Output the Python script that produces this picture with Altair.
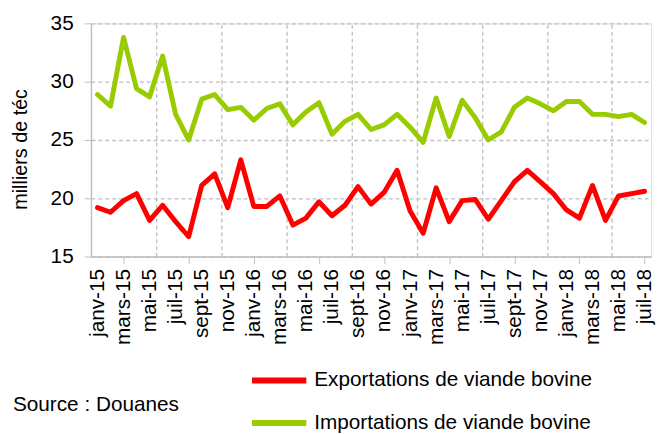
import altair as alt
import pandas as pd

month_names = ["janv", "févr", "mars", "avr", "mai", "juin", "juil", "août", "sept", "oct", "nov", "déc"]
years = ["15", "16", "17", "18"]
months = [f"{m}-{y}" for y in years for m in month_names][:43]  # janv-15 .. juil-18

exports = [19.2, 18.8, 19.8, 20.4, 18.1, 19.4, 18.0, 16.7, 21.1, 22.1, 19.2, 23.3,
           19.3, 19.3, 20.2, 17.7, 18.3, 19.7, 18.5, 19.4, 21.0, 19.5, 20.5, 22.4,
           18.9, 17.0, 20.9, 18.0, 19.8, 19.9, 18.2, 19.8, 21.4, 22.4, 21.4, 20.4,
           19.0, 18.3, 21.1, 18.1, 20.2, 20.4, 20.6]
imports = [28.9, 27.9, 33.8, 29.4, 28.7, 32.2, 27.2, 25.0, 28.5, 28.9, 27.6, 27.8,
           26.7, 27.7, 28.1, 26.3, 27.4, 28.2, 25.5, 26.6, 27.2, 25.9, 26.3, 27.2,
           26.1, 24.8, 28.6, 25.3, 28.4, 26.9, 25.0, 25.7, 27.8, 28.6, 28.1, 27.5,
           28.3, 28.3, 27.2, 27.2, 27.0, 27.2, 26.5]
series_names = ["Exportations de viande bovine", "Importations de viande bovine"]
series_colors = ["#ff0000", "#99cc00"]
source_text = "Source : Douanes"
y_title = "milliers de téc"

rows = []
for i, m in enumerate(months):
    rows.append({"i": i, "mois": m, "serie": series_names[0], "v": exports[i]})
    rows.append({"i": i, "mois": m, "serie": series_names[1], "v": imports[i]})
df = pd.DataFrame(rows)

FONT = "Liberation Sans"
GRAY = "#bfbfbf"
xscale = alt.Scale(domain=[-0.5, 42.5], nice=False, zero=False)

label_expr = "[" + ",".join(f"'{m}'" for m in months) + "][datum.value]"

label_axis = alt.Axis(
    orient="bottom", values=list(range(0, 43, 2)), labelExpr=label_expr,
    labelAngle=270, labelAlign="right", labelBaseline="middle",
    labelFont=FONT, labelFontSize=21, labelColor="#000000", labelPadding=12,
    ticks=False, domain=False, grid=False, title=None, labelOverlap=False,
)
tick_axis = alt.Axis(
    orient="bottom", values=list(range(2, 43, 5)), labels=False,
    ticks=True, tickColor=GRAY, tickSize=7, tickWidth=1,
    domain=True, domainColor=GRAY, domainWidth=1.5, grid=False, title=None,
)
grid_axis = alt.Axis(
    orient="bottom", values=[4.5 + 5 * k for k in range(8)], labels=False,
    ticks=False, domain=False, grid=True, gridColor=GRAY, gridDash=[4, 3],
    gridWidth=1.3, title=None,
)

grid_layer = alt.Chart(df).mark_point(opacity=0).encode(
    x=alt.X("i:Q", scale=xscale, axis=grid_axis)
)
tick_layer = alt.Chart(df).mark_point(opacity=0).encode(
    x=alt.X("i:Q", scale=xscale, axis=tick_axis)
)
lines = alt.Chart(df).mark_line(strokeWidth=5, strokeJoin="round", strokeCap="round").encode(
    x=alt.X("i:Q", scale=xscale, axis=label_axis),
    y=alt.Y("v:Q", scale=alt.Scale(domain=[15, 35], nice=False, zero=False),
            axis=alt.Axis(values=[15, 20, 25, 30, 35], grid=True, gridColor=GRAY,
                          gridDash=[4, 3], gridWidth=1.3, domainColor=GRAY, domainWidth=1.5,
                          tickColor=GRAY, tickSize=7, labelFont=FONT, labelFontSize=21,
                          labelColor="#000000", labelPadding=11, title=y_title,
                          titleFont=FONT, titleFontSize=20, titleFontWeight="normal",
                          titleColor="#000000", titleAngle=270, titleX=-71, titleY=127,
                          titleBaseline="middle", titleAlign="center")),
    color=alt.Color("serie:N", scale=alt.Scale(domain=series_names, range=series_colors),
                    legend=alt.Legend(orient="none", legendX=160, legendY=331, title=None,
                                      symbolType="stroke", symbolSize=3025,
                                      symbolStrokeWidth=6, labelFont=FONT,
                                      labelFontSize=21, labelColor="#000000",
                                      labelLimit=600, labelOffset=5, rowPadding=-16,
                                      direction="vertical")),
    detail="serie:N",
)
source = alt.Chart(pd.DataFrame({"t": [source_text]})).mark_text(
    font=FONT, fontSize=21, align="left", baseline="middle", color="#000000"
).encode(x=alt.value(-79), y=alt.value(386), text="t:N")

chart = alt.layer(grid_layer, tick_layer, lines, source).resolve_axis(
    x="independent"
).properties(
    width=567, height=236,
    autosize=alt.AutoSizeParams(type="none"),
    padding={"left": 84, "top": 13, "right": 8, "bottom": 177},
).configure_view(stroke=GRAY, strokeWidth=1.5).configure(background="white")

chart.save("out.html", embed_options={"renderer": "svg", "actions": False})
